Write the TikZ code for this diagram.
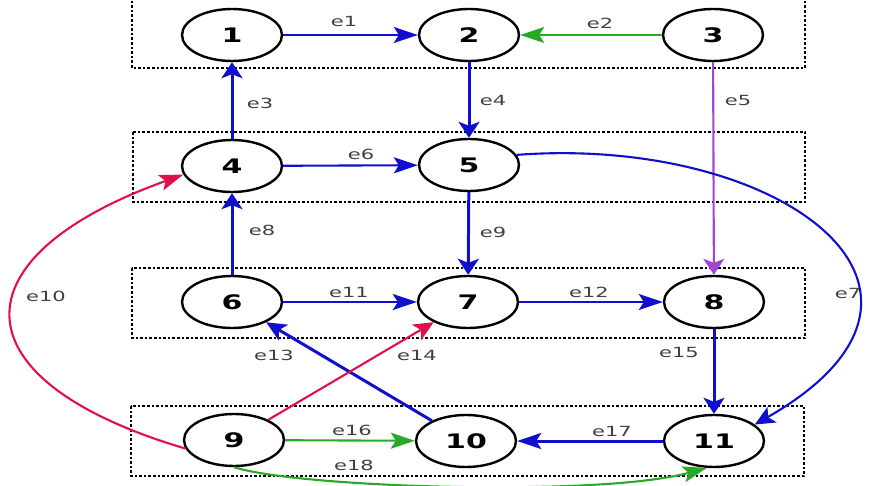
\documentclass[tikz,border=0pt]{standalone}
\usepackage{fontspec}
\usetikzlibrary{arrows.meta,shapes.geometric}
\newfontfamily\numfont[FakeStretch=1.5]{DejaVu Sans}
\newfontfamily\lblfont[FakeStretch=1.5]{DejaVu Sans}
\definecolor{eblue}{RGB}{15,15,205}
\definecolor{egreen}{RGB}{40,170,40}
\definecolor{ered}{RGB}{225,15,75}
\definecolor{epurple}{RGB}{160,70,210}
\tikzset{
  gnode/.style={ellipse, draw, line width=2.4pt, minimum width=100pt, minimum height=52pt, inner sep=0pt,
    font=\numfont\bfseries\fontsize{20}{20}\selectfont},
  elbl/.style={font=\lblfont\fontsize{14}{14}\selectfont, text=black!75, inner sep=0pt},
  rowbox/.style={draw, line width=2.2pt, dash pattern=on 2.6pt off 2pt},
  thinE/.style={line width=2.1pt},
  thickE/.style={line width=3pt},
  ah/.style={-{Stealth[length=24pt,width=16pt,inset=5pt]}},
  av/.style={-{Stealth[length=16pt,width=21pt,inset=4pt]}},
  ad/.style={-{Stealth[length=20pt,width=18pt,inset=5pt]}},
}
\begin{document}
\begin{tikzpicture}[x=1pt,y=-1pt]
\useasboundingbox (0,0) rectangle (870,486);
% row boxes
\draw[rowbox] (132,-4) rectangle (805,68);
\draw[rowbox] (133,132) rectangle (805,202);
\draw[rowbox] (132,268) rectangle (805,338);
\draw[rowbox] (131,406) rectangle (804,476);
% nodes
\node[gnode] (n1) at (232,35) {1};
\node[gnode] (n2) at (469,35) {2};
\node[gnode] (n3) at (713,35) {3};
\node[gnode] (n4) at (232,166) {4};
\node[gnode] (n5) at (469,165) {5};
\node[gnode] (n6) at (232,302) {6};
\node[gnode] (n7) at (468,302) {7};
\node[gnode] (n8) at (714,302) {8};
\node[gnode] (n9) at (234,440) {9};
\node[gnode] (n10) at (466,441) {10};
\node[gnode] (n11) at (714,441) {11};
% edges
\draw[eblue, thinE, ah] (n1) -- (n2);
\draw[egreen, thinE, ah] (n3) -- (n2);
\draw[eblue, thickE, av] (n4) -- (n1);
\draw[eblue, thickE, av] (n2) -- (n5);
\draw[epurple, thinE, av] (n3) -- (n8);
\draw[eblue, thinE, ah] (n4) -- (n5);
\draw[eblue, thinE, ad] (n5.12) .. controls (780,135) and (990,290) .. (n11.22);
\draw[eblue, thickE, av] (n6) -- (n4);
\draw[eblue, thickE, av] (n5) -- (n7);
\draw[ered, thinE, ah] (n9.190) .. controls (-46,380) and (-46,257) .. (n4.190);
\draw[eblue, thinE, ah] (n6) -- (n7);
\draw[eblue, thinE, ah] (n7) -- (n8);
\draw[eblue, thickE, ad] (n10) -- (n6);
\draw[ered, thinE, ad] (n9) -- (n7);
\draw[eblue, thickE, av] (n8) -- (n11);
\draw[egreen, thinE, ah] (n9) -- (n10);
\draw[eblue, thickE, ah] (n11) -- (n10);
\draw[egreen, thinE, ah] (n9.south) .. controls (300,488) and (600,497) .. (n11.255);
% labels
\node[elbl] (l1) at (344,22) {e1};
\node[elbl] (l2) at (600,23) {e2};
\node[elbl] (l3) at (260,103) {e3};
\node[elbl] (l4) at (493,100) {e4};
\node[elbl] (l5) at (738,100) {e5};
\node[elbl] (l6) at (361,154) {e6};
\node[elbl] (l7) at (848,293) {e7};
\node[elbl] (l8) at (262,230) {e8};
\node[elbl] (l9) at (493,232) {e9};
\node[elbl] (l10) at (46,296) {e10};
\node[elbl] (l11) at (349,292) {e11};
\node[elbl] (l12) at (589,292) {e12};
\node[elbl] (l13) at (274,355) {e13};
\node[elbl] (l14) at (417,355) {e14};
\node[elbl] (l15) at (679,352) {e15};
\node[elbl] (l16) at (352,430) {e16};
\node[elbl] (l17) at (612,431) {e17};
\node[elbl] (l18) at (354,465) {e18};
\end{tikzpicture}
\end{document}
